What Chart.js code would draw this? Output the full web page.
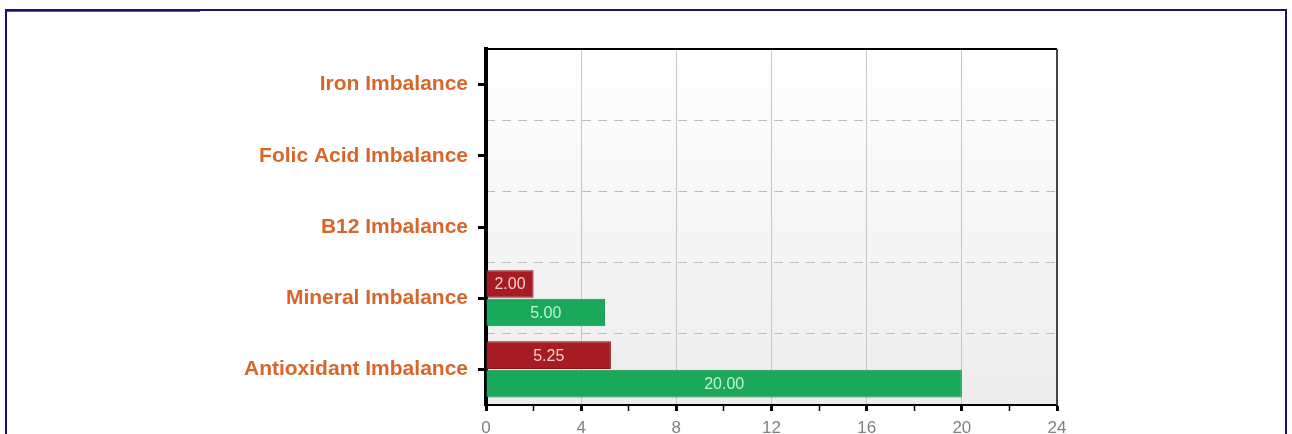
<!DOCTYPE html>
<html>
<head>
<meta charset="utf-8">
<script src="https://cdn.jsdelivr.net/npm/chart.js@4.4.1/dist/chart.umd.min.js"></script>
<style>
    body { margin: 0; background: #fff; overflow: hidden; }
    #frame { position: absolute; left: 5px; top: 9px; width: 1278px; height: 500px; border: 2px solid #1b1070; }
    #frameHi { position: absolute; left: 7px; top: 11px; width: 193px; height: 1px; background: #5a55c0; }
    #wrap { position: absolute; left: 0; top: 0; width: 1292px; height: 434px; }
</style>
</head>
<body>
<div id="frame"></div>
<div id="frameHi"></div>
<div id="wrap"><canvas id="chart"></canvas></div>
<script>
// categories, top to bottom
const categories = ['Iron Imbalance', 'Folic Acid Imbalance', 'B12 Imbalance', 'Mineral Imbalance', 'Antioxidant Imbalance'];
const redValues = [0, 0, 0, 2.00, 5.25];
const greenValues = [0, 0, 0, 5.00, 20.00];
const xMin = 0;
const xMax = 24;
const xStep = 2;      // minor ticks
const xLabelStep = 4; // labelled ticks

/**
 * Plot background + top/right frame
 */
const plotFrame = {
    id: 'plotFrame',
    beforeDraw(chart) {
        const { ctx, chartArea: a } = chart;
        const g = ctx.createLinearGradient(0, a.top, 0, a.bottom);
        g.addColorStop(0, '#ffffff');
        g.addColorStop(1, '#ececec');
        ctx.save();
        ctx.fillStyle = g;
        ctx.fillRect(a.left, a.top, a.right - a.left, a.bottom - a.top);
        ctx.restore();
    },
    afterDraw(chart) {
        const { ctx, chartArea: a } = chart;
        ctx.save();
        ctx.lineWidth = 2;
        ctx.strokeStyle = '#000';
        ctx.beginPath();
        ctx.moveTo(a.left, a.top);
        ctx.lineTo(a.right, a.top);
        ctx.stroke();
        ctx.strokeStyle = '#444';
        ctx.beginPath();
        ctx.moveTo(a.right, a.top);
        ctx.lineTo(a.right, a.bottom);
        ctx.stroke();
        ctx.restore();
    }
};

/**
 * Value labels inside bars
 */
const barValues = {
    id: 'barValues',
    afterDatasetsDraw(chart) {
        const ctx = chart.ctx;
        ctx.save();
        ctx.font = '16px "Liberation Sans", Arial, sans-serif';
        ctx.textAlign = 'center';
        ctx.textBaseline = 'middle';
        chart.data.datasets.forEach((ds, i) => {
            const meta = chart.getDatasetMeta(i);
            meta.data.forEach((bar, j) => {
                const v = ds.data[j];
                if (!v) return;
                ctx.fillStyle = ds.labelColor;
                ctx.fillText(v.toFixed(2), (bar.x + bar.base) / 2, bar.y + 1);
            });
        });
        ctx.restore();
    }
};

new Chart(document.getElementById('chart'), {
    type: 'bar',
    data: {
        labels: categories,
        datasets: [
            {
                label: 'Red',
                data: redValues,
                backgroundColor: '#a61c22',
                borderColor: '#8e1419',
                borderWidth: 1,
                labelColor: 'rgba(255,225,225,0.9)',
                barPercentage: 0.97,
                categoryPercentage: 0.8
            },
            {
                label: 'Green',
                data: greenValues,
                backgroundColor: '#1aa85a',
                borderColor: '#13894a',
                borderWidth: 1,
                labelColor: 'rgba(215,250,225,0.9)',
                barPercentage: 0.97,
                categoryPercentage: 0.8
            }
        ]
    },
    options: {
        indexAxis: 'y',
        responsive: true,
        maintainAspectRatio: false,
        animation: false,
        layout: { padding: { top: 49, right: 235, left: 0, bottom: 0 } },
        plugins: {
            legend: { display: false },
            tooltip: { enabled: false }
        },
        scales: {
            x: {
                min: xMin,
                max: xMax,
                afterFit(scale) { scale.height = 29; },
                ticks: {
                    stepSize: xStep,
                    autoSkip: false,
                    maxRotation: 0,
                    padding: 7,
                    color: '#808080',
                    font: { family: '"Liberation Sans", Arial, sans-serif', size: 17 },
                    callback: v => (v % xLabelStep === 0 ? v : '')
                },
                grid: {
                    color: c => (c.tick && c.tick.value % xLabelStep === 0 ? '#c6c6c6' : 'rgba(0,0,0,0)'),
                    tickColor: '#000',
                    tickWidth: c => (c.tick && c.tick.value % xLabelStep === 0 ? 3 : 1.5),
                    tickLength: 6,
                    lineWidth: 1
                },
                border: { color: '#000', width: 2 }
            },
            y: {
                afterFit(scale) { scale.width = 486; },
                ticks: {
                    padding: 10,
                    color: '#d8652a',
                    font: { family: '"Liberation Sans", Arial, sans-serif', size: 21, weight: 'bold' }
                },
                grid: {
                    offset: false,
                    drawOnChartArea: false,
                    tickColor: '#000',
                    tickWidth: 3,
                    tickLength: 8
                },
                border: { color: '#000', width: 4 }
            },
            yGrid: {
                type: 'category',
                position: 'left',
                labels: categories,
                offset: true,
                afterFit(scale) { scale.width = 0; },
                ticks: { display: false },
                grid: {
                    offset: true,
                    drawTicks: false,
                    color: '#bdbdbd',
                    lineWidth: 1
                },
                border: { display: false, dash: [9, 7] }
            }
        }
    },
    plugins: [plotFrame, barValues]
});
</script>
</body>
</html>
